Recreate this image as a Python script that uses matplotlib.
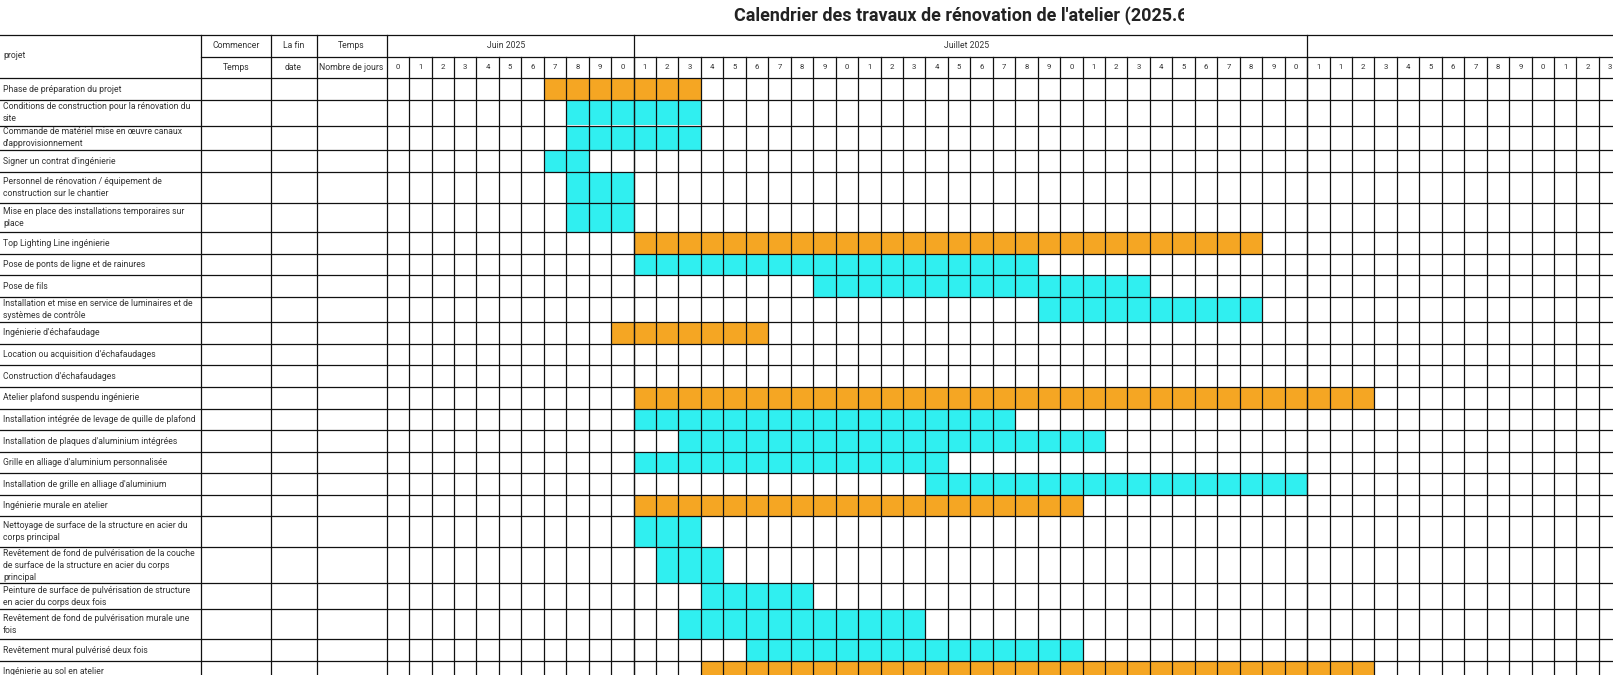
import matplotlib.pyplot as plt
from matplotlib.patches import Rectangle
from matplotlib.transforms import Bbox, TransformedBbox

# ---- data ----
tasks = [
    "Phase de préparation du projet",
    "Conditions de construction pour la rénovation du\nsite",
    "Commande de matériel mise en œuvre canaux\nd'approvisionnement",
    "Signer un contrat d'ingénierie",
    "Personnel de rénovation / équipement de\nconstruction sur le chantier",
    "Mise en place des installations temporaires sur\nplace",
    "Top Lighting Line ingénierie",
    "Pose de ponts de ligne et de rainures",
    "Pose de fils",
    "Installation et mise en service de luminaires et de\nsystèmes de contrôle",
    "Ingénierie d'échafaudage",
    "Location ou acquisition d'échafaudages",
    "Construction d'échafaudages",
    "Atelier plafond suspendu ingénierie",
    "Installation intégrée de levage de quille de plafond",
    "Installation de plaques d'aluminium intégrées",
    "Grille en alliage d'aluminium personnalisée",
    "Installation de grille en alliage d'aluminium",
    "Ingénierie murale en atelier",
    "Nettoyage de surface de la structure en acier du\ncorps principal",
    "Revêtement de fond de pulvérisation de la couche\nde surface de la structure en acier du corps\nprincipal",
    "Peinture de surface de pulvérisation de structure\nen acier du corps deux fois",
    "Revêtement de fond de pulvérisation murale une\nfois",
    "Revêtement mural pulvérisé deux fois",
    "Ingénierie au sol en atelier",
]
# index of first day column and number of days (None = no bar)
start = [7, 8, 8, 7, 8, 8, 11, 11, 19, 29, 10, None, None, 11, 11, 13, 11, 24, 11, 11, 12, 14, 13, 16, 14]
duration = [7, 6, 6, 2, 3, 3, 28, 18, 15, 10, 7, 0, 0, 33, 17, 19, 14, 17, 20, 3, 3, 5, 11, 15, 30]
is_phase = [1, 0, 0, 0, 0, 0, 1, 0, 0, 0, 1, 0, 0, 1, 0, 0, 0, 0, 1, 0, 0, 0, 0, 0, 1]

months = ["Juin 2025", "Juillet 2025", ""]
month_span = [11, 30, 14]
day_labels = ["0", "1", "2", "3", "4", "5", "6", "7", "8", "9", "0",
              "1", "2", "3", "4", "5", "6", "7", "8", "9", "0",
              "1", "2", "3", "4", "5", "6", "7", "8", "9", "0",
              "1", "2", "3", "4", "5", "6", "7", "8", "9", "0",
              "1", "1", "2", "3", "4", "5", "6", "7", "8", "9", "0", "1", "2", "3"]

head_top = ["Commencer", "La fin", "Temps"]
head_bot = ["Temps", "date", "Nombre de jours"]

title = "Calendrier des travaux de rénovation de l'atelier (2025.6"

# ---- layout (pixels) ----
W, H = 1613, 675
col_x = [0, 201, 270.5, 316.5, 386.6]
day_w = 22.45
table_top = 35
head_h = 21.6
row_h = [21.6, 25.7, 24.7, 21.6, 30.9, 29.6, 21.4, 21.3, 22.3, 24.7, 21.7, 21.6, 21.7,
         21.7, 21.6, 21.7, 21.3, 21.7, 21.3, 31, 36, 26, 30, 21.7, 21.7]
orange = "#F5A623"
cyan = "#30EFF0"
line_c = "#111111"
txt_c = "#333333"
lw = 0.9
fs = 6.2

plt.rcParams['font.family'] = ['Roboto', 'DejaVu Sans']

fig = plt.figure(figsize=(W / 100, H / 100), dpi=100)
ax = fig.add_axes([0, 0, 1, 1])
ax.set_xlim(0, W)
ax.set_ylim(H, 0)
ax.axis("off")

day0 = col_x[4]
n_days = len(day_labels)
x_end = day0 + n_days * day_w

# row boundaries
y_rows = [table_top + 2 * head_h]
for h in row_h:
    y_rows.append(y_rows[-1] + h)
bottom = y_rows[-1]

# bars
for i, (s, d) in enumerate(zip(start, duration)):
    if s is None or d == 0:
        continue
    ax.add_patch(Rectangle((day0 + s * day_w, y_rows[i]), d * day_w, row_h[i],
                           facecolor=orange if is_phase[i] else cyan, edgecolor="none", zorder=1))

# horizontal lines
ax.plot([0, x_end], [table_top, table_top], color=line_c, lw=lw, zorder=3)
ax.plot([col_x[1], x_end], [table_top + head_h] * 2, color=line_c, lw=lw, zorder=3)
for y in y_rows:
    ax.plot([0, x_end], [y, y], color=line_c, lw=lw, zorder=3)

# vertical lines
for x in col_x[1:]:
    ax.plot([x, x], [table_top, bottom], color=line_c, lw=lw, zorder=3)
acc = 0
for span in month_span[:-1]:
    acc += span
    x = day0 + acc * day_w
    ax.plot([x, x], [table_top, bottom], color=line_c, lw=lw, zorder=3)
for k in range(1, n_days + 1):
    x = day0 + k * day_w
    ax.plot([x, x], [table_top + head_h, bottom], color=line_c, lw=lw, zorder=3)

# header texts
ax.text(3, table_top + head_h - 1, "projet", fontsize=fs, color=txt_c, va="center", ha="left")
for j in range(3):
    xc = (col_x[j + 1] + col_x[j + 2]) / 2
    ax.text(xc, table_top + head_h / 2, head_top[j], fontsize=fs, color=txt_c, ha="center",
            va="center")
    ax.text(xc, table_top + head_h * 1.5, head_bot[j], fontsize=fs, color=txt_c, ha="center",
            va="center")
acc = 0
for m, span in zip(months, month_span):
    xc = day0 + (acc + span / 2) * day_w - 4
    ax.text(xc, table_top + head_h / 2, m, fontsize=fs, color=txt_c, ha="center", va="center")
    acc += span
for k, lab in enumerate(day_labels):
    ax.text(day0 + (k + 0.5) * day_w, table_top + head_h * 1.5, lab, fontsize=5.6,
            color=txt_c, ha="center", va="center")

# task names
for i, name in enumerate(tasks):
    ax.text(3, (y_rows[i] + y_rows[i + 1]) / 2, name, fontsize=fs, color=txt_c,
            ha="left", va="center", linespacing=1.4)

# title, clipped like the original cell
t = ax.text(734, 16, title, fontsize=13.0, fontweight="bold", color="#222222",
            ha="left", va="center")
t.set_clip_on(True)
t.set_clip_box(TransformedBbox(Bbox([[0, 0], [1184, 34]]), ax.transData))

fig.savefig("out.png", dpi=100)
